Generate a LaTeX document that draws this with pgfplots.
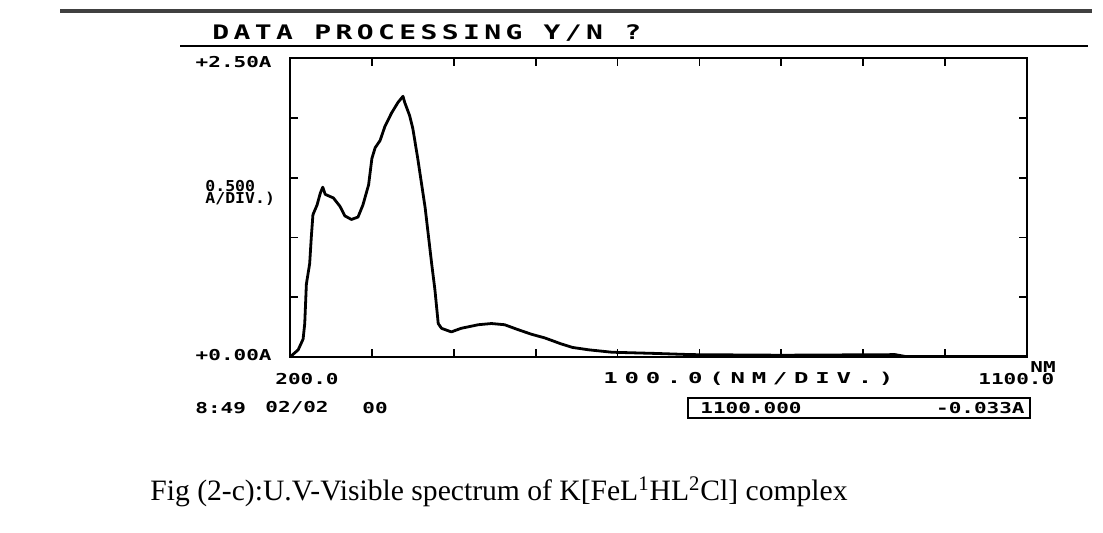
\documentclass[border=0pt]{standalone}
\usepackage{fontspec}
\setmainfont{Liberation Serif}
\newfontfamily\pix{DejaVu Sans Mono}[FakeStretch=1.4]
\newfontfamily\pixN{DejaVu Sans Mono}[FakeStretch=1.1]
\newfontfamily\pixW{DejaVu Sans Mono}[FakeStretch=1.6,LetterSpace=45]
\newfontfamily\pixT{DejaVu Sans Mono}[FakeStretch=1.4,LetterSpace=22]
\usepackage{pgfplots}
\pgfplotsset{compat=1.18}
\pgfplotstableread{
nm A
200 0
210 0.06
216 0.15
218 0.28
220 0.61
224 0.78
226 1.00
228 1.19
233 1.27
237 1.37
240 1.42
243 1.36
253 1.33
261 1.26
267 1.18
275 1.15
283 1.17
289 1.27
296 1.44
300 1.66
304 1.75
310 1.81
316 1.93
324 2.04
332 2.13
338 2.18
340 2.13
346 2.02
350 1.91
356 1.66
365 1.25
373 0.78
377 0.56
381 0.28
385 0.24
397 0.21
409 0.24
430 0.27
446 0.28
462 0.27
478 0.23
495 0.19
511 0.16
531 0.11
545 0.08
565 0.06
593 0.04
646 0.03
690 0.02
800 0.015
939 0.02
951 0.005
1100 0.005
}\spectrum
\begin{document}
\begin{tikzpicture}
\begin{scope}[x=0.5pt,y=-0.5pt]
\path[use as bounding box] (0,0) rectangle (1103,532);
\fill[white] (0,0) rectangle (1103,532);
\draw[line width=2pt, black!75] (60,11) -- (1092,11);
\draw[line width=0.9pt] (180,46) -- (1088,46);
\node[anchor=west, inner sep=0pt, font=\pixT\bfseries\fontsize{10}{11}\selectfont] at (212,33) {DATA PROCESSING Y/N ?};
\begin{scope}[every node/.style={inner sep=0pt, font=\pix\bfseries\fontsize{7.5}{8}\selectfont}]
\node[anchor=east] at (272,62) {+2.50A};
\node[anchor=west, font=\pixN\bfseries\fontsize{7.5}{8}\selectfont] at (205,186) {0.500};
\node[anchor=west, font=\pixN\bfseries\fontsize{7.5}{8}\selectfont] at (205,199) {A/DIV.)};
\node[anchor=east] at (272,355) {+0.00A};
\node[anchor=west] at (275,379) {200.0};
\node[anchor=west, font=\pixW\bfseries\fontsize{7.5}{8}\selectfont] at (603,379) {100.0(NM/DIV.)};
\node[anchor=west] at (978,379) {1100.0};
\node[anchor=west] at (1030,367) {NM};
\node[anchor=west] at (195,408) {8:49};
\node[anchor=west] at (265,408) {02/02};
\node[anchor=west] at (362,408) {00};
\node[anchor=west] at (700,408) {1100.000};
\node[anchor=east] at (1025,408) {-0.033A};
\end{scope}
\draw[line width=1pt] (688,398) rectangle (1030,418);
\node[anchor=west, inner sep=0pt, font=\fontsize{14.8}{18}\selectfont] at (150,492) {Fig (2-c):U.V-Visible spectrum of K[FeL\textsuperscript{1}HL\textsuperscript{2}Cl] complex};
\end{scope}
\begin{axis}[
  at={(145pt,-178.5pt)}, anchor=south west,
  width=368.5pt, height=149.5pt, scale only axis,
  xmin=200, xmax=1100, ymin=0, ymax=2.5,
  xtick={200,300,...,1100}, ytick={0,0.5,...,2.5},
  xticklabels={}, yticklabels={},
  tick align=inside, tick pos=both,
  major tick length=4pt,
  tick style={line width=0.9pt, black},
  axis line style={line width=1.4pt, black},
  clip=false,
]
\addplot[black, line width=1.4pt, line join=round] table[x=nm, y=A] {\spectrum};
\end{axis}
\end{tikzpicture}
\end{document}
